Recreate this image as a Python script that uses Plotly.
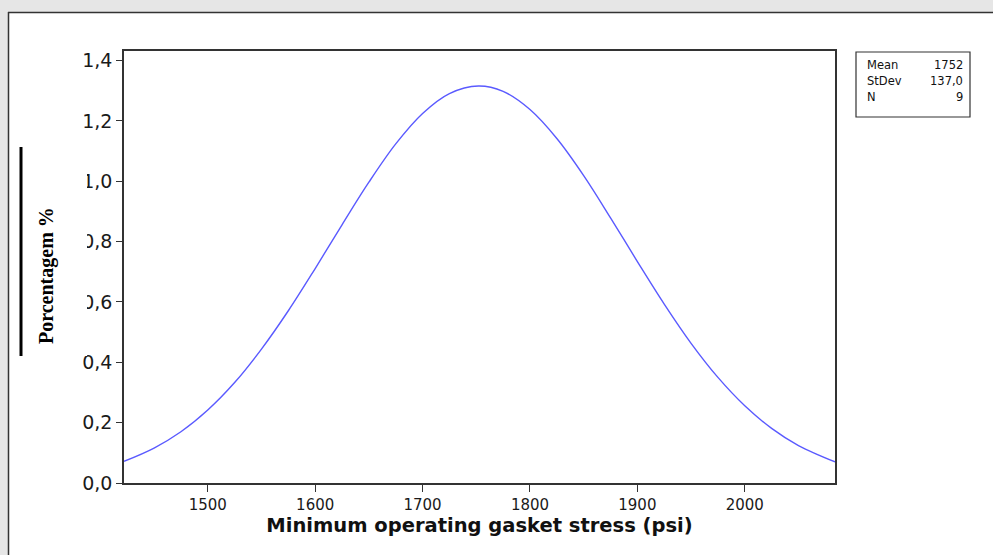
import plotly.graph_objects as go

# ---- data ----
stress_psi = [1422, 1450, 1475, 1500, 1525, 1550, 1575, 1600, 1625, 1650, 1675, 1700, 1725,
              1752, 1775, 1800, 1825, 1850, 1875, 1900, 1925, 1950, 1975, 2000, 2025, 2050, 2084]
percent = [0.072, 0.116, 0.170, 0.242, 0.333, 0.444, 0.571, 0.711, 0.856, 0.997, 1.124, 1.225, 1.291,
           1.316, 1.298, 1.238, 1.142, 1.019, 0.879, 0.734, 0.593, 0.463, 0.350, 0.256, 0.181, 0.124, 0.070]

x_tick_vals = [1500, 1600, 1700, 1800, 1900, 2000]
x_tick_text = ["1500", "1600", "1700", "1800", "1900", "2000"]
y_tick_vals = [0.0, 0.2, 0.4, 0.6, 0.8, 1.0, 1.2, 1.4]
y_tick_text = ["0,0", "0,2", "0,4", "0,6", "0,8", "1,0", "1,2", "1,4"]

stat_names = ["Mean", "StDev", "N"]
stat_values = ["1752", "137,0", "9"]

# ---- layout geometry (pixels) ----
W, H = 993, 555
L, R, T, B = 124, 835, 51, 483


def px(xp):
    return (xp - L) / (R - L)


def py(yp):
    return (B - yp) / (B - T)


fig = go.Figure()
fig.add_trace(go.Scatter(
    x=stress_psi, y=percent, mode="lines",
    line=dict(color="#5a5aff", width=1.4, shape="spline"),
    hoverinfo="skip", showlegend=False,
))

shapes = [
    # grey outer frame
    dict(type="rect", xref="paper", yref="paper", x0=px(0), x1=px(W), y0=py(0), y1=py(12),
         fillcolor="#e6e6e6", line=dict(width=0), layer="below"),
    dict(type="rect", xref="paper", yref="paper", x0=px(0), x1=px(8), y0=py(0), y1=py(H),
         fillcolor="#e6e6e6", line=dict(width=0), layer="below"),
    dict(type="line", xref="paper", yref="paper", x0=px(8), x1=px(W), y0=py(12.5), y1=py(12.5),
         line=dict(color="#333333", width=1.5)),
    dict(type="line", xref="paper", yref="paper", x0=px(8.5), x1=px(8.5), y0=py(12), y1=py(H),
         line=dict(color="#333333", width=1.5)),
    # stats box
    dict(type="rect", xref="paper", yref="paper", x0=px(856), x1=px(970), y0=py(52), y1=py(117),
         fillcolor="white", line=dict(color="#333333", width=1.2)),
    # black bar left of the y title
    dict(type="line", xref="paper", yref="paper", x0=px(21), x1=px(21), y0=py(147), y1=py(356),
         line=dict(color="black", width=3), layer="above"),
]

annotations = [
    # white patch partially hiding tick labels behind the y title (annotations sit above axes)
    dict(text="x", xref="paper", yref="paper", x=px(23), y=py(147), xanchor="left", yanchor="top",
         width=64, height=209, bgcolor="white", borderwidth=0, borderpad=0, showarrow=False,
         font=dict(color="white", size=10)),
    dict(text="Porcentagem %", xref="paper", yref="paper", x=px(46), y=py(276),
         showarrow=False, textangle=-90, xanchor="center", yanchor="middle",
         font=dict(family="Liberation Serif", size=20, color="black", weight="bold")),
]
for i, (n, v) in enumerate(zip(stat_names, stat_values)):
    yy = py(65 + i * 16)
    annotations.append(dict(text=n, xref="paper", yref="paper", x=px(865), y=yy,
                            showarrow=False, xanchor="left", yanchor="middle",
                            font=dict(family="DejaVu Sans", size=11.5, color="#111111")))
    annotations.append(dict(text=v, xref="paper", yref="paper", x=px(965), y=yy,
                            showarrow=False, xanchor="right", yanchor="middle",
                            font=dict(family="DejaVu Sans", size=11.5, color="#111111")))

fig.update_layout(
    width=W, height=H,
    margin=dict(l=L, r=W - R, t=T, b=H - B, pad=0),
    paper_bgcolor="white", plot_bgcolor="white",
    shapes=shapes, annotations=annotations,
    xaxis=dict(range=[1422, 2084], tickvals=x_tick_vals, ticktext=x_tick_text,
               showgrid=False, zeroline=False, showline=True, mirror=True,
               linecolor="#333333", linewidth=1.5, ticks="outside", ticklen=7,
               tickcolor="#333333", tickwidth=1.2,
               tickfont=dict(family="DejaVu Sans", size=15, color="#1a1a1a"),
               title=dict(text="Minimum operating gasket stress (psi)", standoff=6,
                          font=dict(family="DejaVu Sans", size=19.5, color="#111111", weight="bold"))),
    yaxis=dict(range=[0, 1.432], tickvals=y_tick_vals, ticktext=y_tick_text,
               showgrid=False, zeroline=False, showline=True, mirror=True,
               linecolor="#333333", linewidth=1.5, ticks="outside", ticklen=6,
               tickcolor="#333333", tickwidth=1.2,
               tickfont=dict(family="DejaVu Sans", size=19, color="#1a1a1a")),
)

fig.write_html(
    "out.html",
    config={"displayModeBar": False},
    post_script="document.body.style.margin='0';document.body.style.overflow='hidden';",
)
